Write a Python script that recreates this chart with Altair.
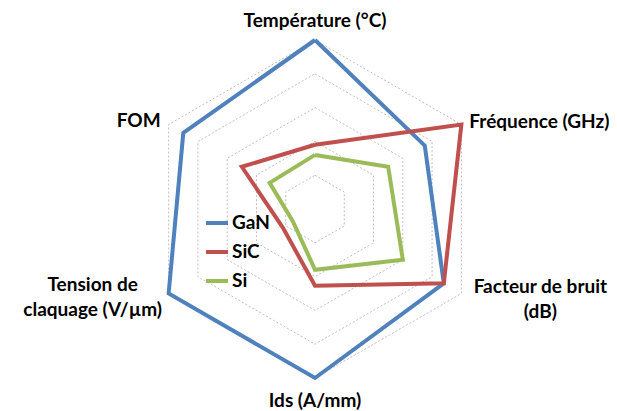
import math
import pandas as pd
import altair as alt

axes = ["Température (°C)", "Fréquence (GHz)", "Facteur de bruit (dB)", "Ids (A/mm)",
        "Tension de claquage (V/µm)", "FOM"]
series = ["GaN", "SiC", "Si"]
gan = [5.0, 3.75, 4.4, 5.0, 5.0, 4.5]
sic = [1.9, 5.0, 4.4, 2.27, 1.1, 2.5]
si = [1.6, 2.5, 3.0, 1.8, 0.75, 1.55]
grid_levels = [1, 2, 3, 4, 5]
colors = ["#4F81BD", "#C0504D", "#9BBB59"]

n = len(axes)
angles = [2 * math.pi * i / n for i in range(n)]

rows = []
for name, vals in zip(series, [gan, sic, si]):
    for k in range(n + 1):
        i = k % n
        rows.append({"series": name, "order": k, "axis": axes[i],
                     "x": vals[i] * math.sin(angles[i]), "y": vals[i] * math.cos(angles[i])})
df = pd.DataFrame(rows)

grows = []
for lv in grid_levels:
    for k in range(n + 1):
        i = k % n
        grows.append({"level": lv, "order": k,
                      "x": lv * math.sin(angles[i]), "y": lv * math.cos(angles[i])})
gdf = pd.DataFrame(grows)

rmax = max(grid_levels)
xs = alt.Scale(domain=[-9.083, 8.698], nice=False, zero=False)
ys = alt.Scale(domain=[-5.740, 5.947], nice=False, zero=False)
W, H = 601, 395

grid = alt.Chart(gdf).mark_line(color="#BFBFBF", strokeWidth=1, strokeDash=[2, 2]).encode(
    x=alt.X("x:Q", scale=xs, axis=None),
    y=alt.Y("y:Q", scale=ys, axis=None),
    detail="level:N",
    order="order:Q",
)

color_scale = alt.Scale(domain=series, range=colors)
lines = []
for idx, s in enumerate(series):
    lines.append(
        alt.Chart(df[df["series"] == s]).mark_line(strokeWidth=4, strokeJoin="miter").encode(
            x=alt.X("x:Q", scale=xs, axis=None),
            y=alt.Y("y:Q", scale=ys, axis=None),
            order="order:Q",
            color=alt.Color("series:N", scale=color_scale, sort=series,
                            legend=alt.Legend(
                                title=None, orient="none", legendX=196, legendY=202,
                                symbolType="stroke", symbolSize=484, symbolStrokeWidth=4,
                                labelFont="Lato", labelFontWeight="bold", labelFontSize=19,
                                labelColor="#000000", labelOffset=2, rowPadding=6, padding=0,
                            ) if idx == 0 else None),
        )
    )

# label anchors: axis vertex at outer ring
def vertex(i):
    return {"x": rmax * math.sin(angles[i]), "y": rmax * math.cos(angles[i])}

label_lines = [["Température (°C)"], ["Fréquence (GHz)"], ["Facteur de bruit", "(dB)"],
               ["Ids (A/mm)"], ["Tension de", "claquage (V/µm)"], ["FOM"]]
label_style = [("center", 0, -19), ("left", 8, -3), ("center", 79, -6.5),
               ("center", 0, 23), ("center", -76, -8.5), ("right", -8, -3.5)]

labels = []
for i in range(n):
    a, dx, dy = label_style[i]
    d = pd.DataFrame([{**vertex(i), "label": label_lines[i]}])
    labels.append(
        alt.Chart(d).mark_text(align=a, baseline="middle", dx=dx, dy=dy, font="Lato",
                               fontWeight="bold", fontSize=19, color="#000000", lineHeight=25).encode(
            x=alt.X("x:Q", scale=xs, axis=None),
            y=alt.Y("y:Q", scale=ys, axis=None),
            text="label",
        )
    )

chart = alt.layer(grid, *lines, *labels).properties(
    width=W, height=H, padding={"left": 0, "top": 0, "right": 0, "bottom": 8},
    autosize="none", background="white"
).configure_view(stroke=None)

chart.save("out.html", embed_options={"renderer": "svg", "actions": False})
